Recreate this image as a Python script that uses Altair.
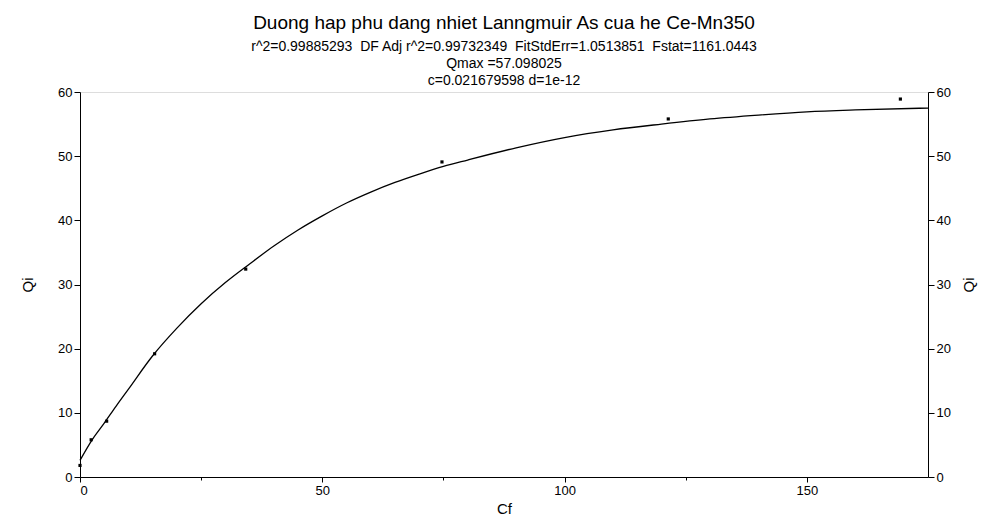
import altair as alt
import pandas as pd

# Measured data points (Cf, Qi)
cf_points = [0.0, 2.3, 5.5, 15.4, 34.2, 74.7, 121.4, 169.3]
qi_points = [1.8, 5.8, 8.7, 19.2, 32.4, 49.1, 55.8, 58.9]

# Fitted curve
cf_curve = [0, 2.5, 5, 7.5, 10, 15, 20, 25, 30, 35, 40, 45, 50, 55, 60, 65, 70,
            75, 80, 90, 100, 110, 120, 130, 140, 150, 160, 175]
qi_curve = [2.6, 5.8, 8.4, 11.1, 13.7, 18.9, 23.2, 27.0, 30.3, 33.2, 36.0, 38.5,
            40.7, 42.7, 44.4, 45.9, 47.2, 48.4, 49.4, 51.3, 52.9, 54.1, 55.0, 55.8,
            56.4, 56.9, 57.2, 57.5]

x_ticks = [0, 50, 100, 150]
x_minor = [25, 75, 125]
y_ticks = [0, 10, 20, 30, 40, 50, 60]

S = " \u00a0"
title_text = "Duong hap phu dang nhiet Lanngmuir As cua he Ce-Mn350"
subtitle_lines = [
    "r^2=0.99885293" + S + "DF Adj r^2=0.99732349" + S + "FitStdErr=1.0513851" + S + "Fstat=1161.0443",
    "Qmax =57.098025",
    "c=0.021679598 d=1e-12",
]

pts = pd.DataFrame({"Cf": cf_points, "Qi": qi_points})
crv = pd.DataFrame({"Cf": cf_curve, "Qi": qi_curve})

FONT = "Liberation Sans"
xscale = alt.Scale(domain=[0, 175], nice=False, zero=False)
yscale = alt.Scale(domain=[0, 60], nice=False)

common = dict(grid=False, labelFontSize=13, titleFontSize=15, titleFontWeight="normal",
              labelColor="black", titleColor="black", domainColor="black",
              tickColor="black", labelFont=FONT, titleFont=FONT)

x_axis = alt.Axis(values=x_ticks, title="Cf", tickSize=5, titlePadding=4,
                  labelPadding=2, **common)
y_left = alt.Axis(values=y_ticks, title="Qi", tickSize=6, orient="left",
                  titlePadding=22, **common)
y_right = alt.Axis(values=y_ticks, title="Qi", tickSize=6, orient="right",
                   titlePadding=26, titleAngle=270, **common)

curve = alt.Chart(crv).mark_line(color="black", strokeWidth=1.3, interpolate="monotone").encode(
    x=alt.X("Cf:Q", scale=xscale, axis=x_axis),
    y=alt.Y("Qi:Q", scale=yscale, axis=y_left),
)

points = alt.Chart(pts).mark_square(color="black", size=10, opacity=1).encode(
    x=alt.X("Cf:Q", scale=xscale,
            axis=alt.Axis(values=x_minor, labels=False, domain=False, title=None,
                          grid=False, tickSize=3, tickColor="black", orient="bottom")),
    y=alt.Y("Qi:Q", scale=yscale, axis=y_right),
)

chart = alt.layer(curve, points).resolve_axis(x="independent", y="independent").properties(
    width=848,
    height=385,
    autosize=alt.AutoSizeParams(type="none"),
    padding={"left": 72, "top": 84, "right": 60, "bottom": 40},
    title=alt.Title(
        text=title_text,
        subtitle=subtitle_lines,
        font=FONT,
        fontSize=19,
        fontWeight="normal",
        color="black",
        subtitleFont=FONT,
        subtitleFontSize=14,
        subtitleColor="black",
        subtitleLineHeight=17,
        subtitlePadding=7,
        anchor="middle",
        offset=-2,
    ),
).configure_view(stroke="black", strokeWidth=1).configure(background="white")

chart.save("out.html", embed_options={"renderer": "svg", "actions": False})
